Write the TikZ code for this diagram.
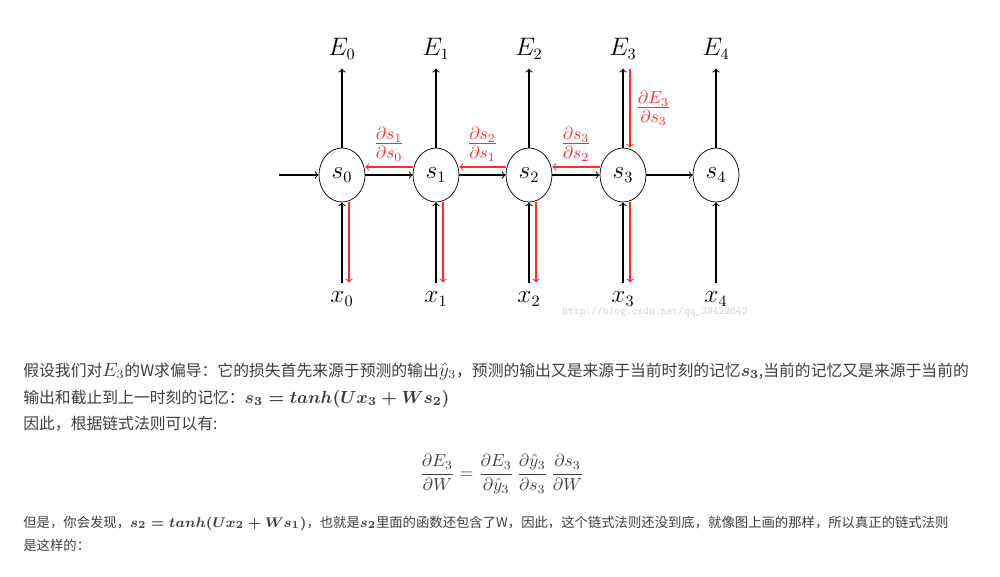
\documentclass[tikz,border=0pt]{standalone}
\usepackage{amsmath}
\usepackage{amssymb}
\usepackage{fontspec}
\newfontfamily\cjk{Noto Sans CJK SC}
\XeTeXlinebreaklocale "zh"
\XeTeXlinebreakskip=0pt plus 3pt
\usetikzlibrary{shapes.geometric}
\definecolor{textgray}{HTML}{3D3D3D}
\definecolor{gradred}{HTML}{FF2B2B}
\definecolor{markgray}{HTML}{D4D4D4}
\newcommand{\mth}[2][10.6]{{\fontsize{#1}{12}\selectfont$#2$}}
\newcommand{\fullline}[1]{\makebox[19.18cm][s]{#1}}

\tikzset{
  state/.style={draw, ellipse, minimum width=0.92cm, minimum height=1.08cm, inner sep=0pt, font=\fontsize{13.5}{15}\selectfont},
  lbl/.style={font=\fontsize{13.5}{15}\selectfont, inner sep=5pt},
  dlbl/.style={text=gradred, font=\fontsize{14}{16}\selectfont, inner sep=3pt},
  fwd/.style={->, line width=0.6pt},
  grad/.style={->, line width=0.6pt, color=gradred},
  para/.style={anchor=base west, text=textgray, font=\cjk\fontsize{9}{10}\selectfont, inner sep=0pt},
  parasmall/.style={para, font=\cjk\fontsize{7.6}{9}\selectfont},
}

\begin{document}
\begin{tikzpicture}[x=0.02cm, y=-0.02cm]
    \useasboundingbox (0,0) rectangle (1000,576);

    % States of the unrolled net
    \node[state] (s0) at (342,175) {$s_0$};
    \node[state] (s1) at (436,175) {$s_1$};
    \node[state] (s2) at (529,175) {$s_2$};
    \node[state] (s3) at (623,175) {$s_3$};
    \node[state] (s4) at (716,175) {$s_4$};

    % Errors on top, inputs below
    \node[lbl] (E0) at (342,49) {$E_0$};
    \node[lbl] (E1) at (436,49) {$E_1$};
    \node[lbl] (E2) at (529,49) {$E_2$};
    \node[lbl] (E3) at (623,49) {$E_3$};
    \node[lbl] (E4) at (716,49) {$E_4$};
    \node[lbl] (x0) at (342,299) {$x_0$};
    \node[lbl] (x1) at (436,299) {$x_1$};
    \node[lbl] (x2) at (529,299) {$x_2$};
    \node[lbl] (x3) at (623,299) {$x_3$};
    \node[lbl] (x4) at (716,299) {$x_4$};

    % Forward arrows
    \coordinate (in) at (279,175);
    \draw[fwd] (in) -- (s0);
    \draw[fwd] (s0) -- (s1);
    \draw[fwd] (s1) -- (s2);
    \draw[fwd] (s2) -- (s3);
    \draw[fwd] (s3) -- (s4);
    \draw[fwd] (s0) -- (E0);
    \draw[fwd] (s1) -- (E1);
    \draw[fwd] (s2) -- (E2);
    \draw[fwd] (s3) -- (E3);
    \draw[fwd] (s4) -- (E4);
    \draw[fwd] (x0) -- (s0);
    \draw[fwd] (x1) -- (s1);
    \draw[fwd] (x2) -- (s2);
    \draw[fwd] (x3) -- (s3);
    \draw[fwd] (x4) -- (s4);

    % Gradients flowing back (red)
    \draw[grad] ([xshift=0.14cm]E3.south) -- node[dlbl, right] {$\frac{\partial E_3}{\partial s_3}$} ([xshift=0.14cm]s3.north);
    \draw[grad] ([yshift=0.16cm]s3.west) -- node[dlbl, above] {$\frac{\partial s_3}{\partial s_2}$} ([yshift=0.16cm]s2.east);
    \draw[grad] ([yshift=0.16cm]s2.west) -- node[dlbl, above] {$\frac{\partial s_2}{\partial s_1}$} ([yshift=0.16cm]s1.east);
    \draw[grad] ([yshift=0.16cm]s1.west) -- node[dlbl, above] {$\frac{\partial s_1}{\partial s_0}$} ([yshift=0.16cm]s0.east);
    \draw[grad] ([xshift=0.14cm]s0.south) -- ([xshift=0.14cm]x0.north);
    \draw[grad] ([xshift=0.14cm]s1.south) -- ([xshift=0.14cm]x1.north);
    \draw[grad] ([xshift=0.14cm]s2.south) -- ([xshift=0.14cm]x2.north);
    \draw[grad] ([xshift=0.14cm]s3.south) -- ([xshift=0.14cm]x3.north);

    % Watermark
    \node[text=markgray, font=\ttfamily\fontsize{6.2}{7}\selectfont] (mark) at (655,312) {http://blog.csdn.net/qq\_39422642};

    % Text below the picture
    \node[para] (l1) at (23,376) {\fullline{假设我们对\mth{E_3}的W求偏导：它的损失首先来源于预测的输出\mth{\hat{y}_3}，预测的输出又是来源于当前时刻的记忆\mth[9.8]{\boldsymbol{s_3}},当前的记忆又是来源于当前的}};
    \node[para] (l2) at (23,403) {输出和截止到上一时刻的记忆：\mth[9.9]{\boldsymbol{s_3 = tanh(Ux_3 + Ws_2)}}};
    \node[para] (l3) at (23,429) {因此，根据链式法则可以有:};
    \node[text=textgray, font=\fontsize{10}{12}\selectfont] (chain) at (502,474) {$\displaystyle \frac{\partial E_3}{\partial W} = \frac{\partial E_3}{\partial \hat{y}_3}\,\frac{\partial \hat{y}_3}{\partial s_3}\,\frac{\partial s_3}{\partial W}$};
    \node[parasmall] (l4) at (23,527) {\fullline{但是，你会发现，\mth[8.4]{\boldsymbol{s_2 = tanh(Ux_2 + Ws_1)}}，也就是\mth[8.4]{\boldsymbol{s_2}}里面的函数还包含了W，因此，这个链式法则还没到底，就像图上画的那样，所以真正的链式法则}};
    \node[parasmall] (l5) at (23,550) {是这样的：};
\end{tikzpicture}
\end{document}
